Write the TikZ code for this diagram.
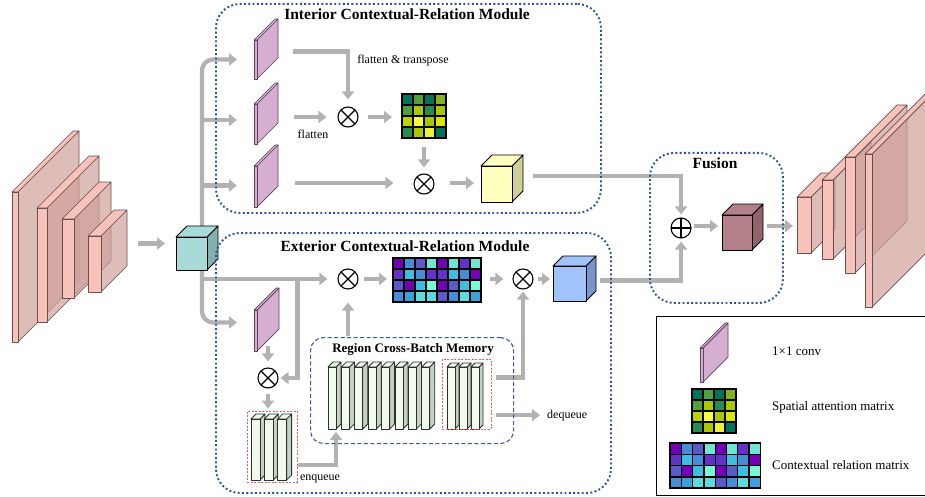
\documentclass[tikz,border=0pt]{standalone}
\usepackage{fontspec}
\setmainfont{Liberation Serif}
\usetikzlibrary{arrows.meta,calc}

\definecolor{flowgray}{RGB}{180,177,177}
\definecolor{dotblue}{RGB}{40,80,155}
\definecolor{memblue}{RGB}{60,90,150}
\definecolor{qred}{RGB}{235,90,95}
\definecolor{pinkF}{RGB}{246,194,186}
\definecolor{pinkS}{RGB}{208,160,154}
\definecolor{pinkE}{RGB}{105,80,80}
\definecolor{cyanF}{RGB}{168,218,218}
\definecolor{cyanS}{RGB}{132,176,176}
\definecolor{yelF}{RGB}{255,255,192}
\definecolor{yelS}{RGB}{206,206,150}
\definecolor{bluF}{RGB}{160,196,250}
\definecolor{bluS}{RGB}{120,150,205}
\definecolor{mauF}{RGB}{180,128,138}
\definecolor{mauS}{RGB}{145,100,110}
\definecolor{convF}{RGB}{214,174,210}
\definecolor{convS}{RGB}{214,174,210}
\definecolor{convE}{RGB}{90,70,90}
\definecolor{colF}{RGB}{240,249,236}
\definecolor{colS}{RGB}{198,208,196}
\definecolor{colE}{RGB}{40,50,40}
% spatial attention cells
\definecolor{sTeal}{RGB}{0,115,90}
\definecolor{sTealB}{RGB}{40,140,80}
\definecolor{sGrn}{RGB}{80,160,60}
\definecolor{sOlv}{RGB}{130,180,30}
\definecolor{sLim}{RGB}{170,200,0}
\definecolor{sLimB}{RGB}{190,210,0}
\definecolor{sYel}{RGB}{250,250,70}
\definecolor{sYelB}{RGB}{220,230,0}
\definecolor{sYelC}{RGB}{240,240,50}
% contextual relation cells
\definecolor{cPur}{RGB}{115,0,180}
\definecolor{cVio}{RGB}{100,50,200}
\definecolor{cSla}{RGB}{90,90,200}
\definecolor{cBlu}{RGB}{70,140,215}
\definecolor{cBluB}{RGB}{60,160,220}
\definecolor{cCya}{RGB}{60,190,225}
\definecolor{cTur}{RGB}{90,220,220}
\definecolor{cAqu}{RGB}{110,230,210}
\definecolor{cAquB}{RGB}{120,250,210}

\newcommand{\samcells}{{sTeal,sGrn,sTeal,sOlv},{sGrn,sLim,sTealB,sLim},{sLimB,sYel,sLim,sYelB},{sTealB,sLim,sYelC,sTeal}}
\newcommand{\crmcells}{{cPur,cBlu,cSla,cAqu,cPur,cAqu,cVio,cAqu},{cVio,cCya,cBlu,cVio,cVio,cCya,cBlu,cPur},{cSla,cPur,cCya,cAquB,cPur,cSla,cCya,cAquB},{cBlu,cBluB,cTur,cTur,cSla,cBlu,cTur,cBluB}}

% cuboid: [edge style]{name}{x}{y}{w}{h}{depth}{front}{side}
\newcommand{\cuboid}[9][cubeedge]{%
  \node[inner sep=0pt, outer sep=0pt, minimum width=#5pt, minimum height=#6pt, anchor=north west] (#2) at (#3,#4) {};
  \filldraw[#1, fill=#9, sidefill] (#2.north east) -- ++(#7,-#7) -- ++(0,#6) -- ++(-#7,#7) -- cycle;
  \filldraw[#1, fill=#8] (#2.north west) -- ++(#7,-#7) -- ++(#5,0) -- (#2.north east) -- cycle;
  \filldraw[#1, fill=#8] (#2.north west) rectangle (#2.south east);
}

% matrix of 4 rows: {name}{x}{y}{cell}{cols}{cells}
\newcommand{\relmat}[6]{%
  \pgfmathsetmacro\matw{#4*#5}
  \pgfmathsetmacro\math{#4*4}
  \node[inner sep=0pt, outer sep=0pt, anchor=north west, minimum width=\matw pt, minimum height=\math pt] (#1) at (#2,#3) {};
  \foreach \row [count=\r from 0] in #6 {
    \foreach \c [count=\k from 0] in \row {
      \filldraw[fill=\c, draw=black, line width=1.3pt] ($(#1.north west)+(\k*#4,\r*#4)$) rectangle ++(#4,#4);
    }
  }
  \draw[line width=1.6pt] (#1.north west) rectangle (#1.south east);
}

\begin{document}
\begin{tikzpicture}[x=1pt, y=-1pt,
  flow/.style={draw=flowgray, line width=4.3pt, -{Triangle[width=12pt,length=8pt]}},
  trunk/.style={flow, rounded corners=11pt},
  sidefill/.style={},
  cubeedge/.style={draw=black, line width=0.9pt, line join=round},
  slabedge/.style={draw=pinkE, line width=0.7pt, line join=round, sidefill/.style={fill opacity=.7}},
  convedge/.style={draw=convE, line width=0.7pt, line join=round},
  coledge/.style={draw=colE, line width=0.8pt, line join=round},
  mulop/.style={circle, draw=black, line width=1.1pt, minimum size=20pt, inner sep=0pt,
    path picture={\draw[line width=1.1pt] (path picture bounding box.north west) -- (path picture bounding box.south east)
      (path picture bounding box.north east) -- (path picture bounding box.south west);}},
  addop/.style={circle, draw=black, line width=1.1pt, minimum size=20pt, inner sep=0pt,
    path picture={\draw[line width=1.1pt] (path picture bounding box.north) -- (path picture bounding box.south)
      (path picture bounding box.east) -- (path picture bounding box.west);}},
  modbox/.style={draw=dotblue, line width=1.9pt, dash pattern=on 1.9pt off 2.4pt, rounded corners=24pt, inner sep=0pt},
  membox/.style={draw=memblue, line width=1.1pt, dash pattern=on 4pt off 2.5pt, rounded corners=13pt, inner sep=0pt},
  qbox/.style={draw=qred, line width=0.9pt, dash pattern=on 2pt off 1.5pt, inner sep=0pt},
  modtitle/.style={font=\fontsize{15.5}{18}\selectfont\bfseries},
  subtitle/.style={font=\fontsize{13}{15}\selectfont\bfseries, inner sep=0pt},
  lbl/.style={font=\fontsize{12}{14}\selectfont, inner sep=0pt},
  legtext/.style={font=\fontsize{13}{15}\selectfont, inner sep=0pt, anchor=base west},
]
\useasboundingbox (0,0) rectangle (925,497);

% input feature maps
\cuboid[slabedge]{s1}{12}{192}{6}{150}{61}{pinkF}{pinkS}
\cuboid[slabedge]{s2}{37}{208}{10}{114}{52}{pinkF}{pinkS}
\cuboid[slabedge]{s3}{62}{219}{12}{79}{37}{pinkF}{pinkS}
\cuboid[slabedge]{s4}{88}{236}{13}{56}{26}{pinkF}{pinkS}

% 1x1 convs
\cuboid[convedge]{c1}{254}{40}{3}{39}{21}{convF}{convS}
\cuboid[convedge]{c2}{254}{104}{3}{40}{21}{convF}{convS}
\cuboid[convedge]{c3}{254}{166}{3}{41}{21}{convF}{convS}
\cuboid[convedge]{c4}{254}{310}{3}{41}{22}{convF}{convS}

% operators
\node[mulop] (ox1) at (348,117) {};
\node[mulop] (ox2) at (424,184) {};
\node[mulop] (ox3) at (348,279) {};
\node[mulop] (ox4) at (268,378) {};
\node[mulop] (ox5) at (523,279) {};
\node[addop] (add) at (681,228) {};

% trunk behind the input cube
\coordinate (tr) at (202,250);
\coordinate (c2in) at ($(c2.west)+(-17,-4)$);
\coordinate (c3in) at ($(c3.west)+(-17,-1)$);
\coordinate (brk) at ($(ox3.west)+(-40,0)$);
\draw[trunk] (tr) |- ($(c1.west)+(-17,0)$);
\draw[flow] (tr |- c2in) -- (c2in);
\draw[flow] (tr |- c3in) -- (c3in);
\draw[trunk] (tr) |- ($(c4.west)+(-17,-8)$);
\draw[flow] (tr |- ox3) -- ($(ox3.west)+(-10,0)$);
\draw[flow] (brk) |- ($(ox4.east)+(2,0)$);

\cuboid{inCube}{176}{237}{31}{33}{11}{cyanF}{cyanS}
\draw[flow] ($(inCube.west)+(-38,-10)$) -- ($(inCube.west)+(-11,-10)$);

% interior module
\relmat{sam}{402}{94}{11}{4}{\samcells}
\cuboid{yelCube}{481}{166}{31}{36}{11}{yelF}{yelS}
\draw[flow] ($(c1.east)+(36,-8)$) -| ($(ox1.north)+(0,-7)$);
\draw[flow] ($(ox1.west)+(-43,0)$) -- ($(ox1.west)+(-11,0)$);
\draw[flow] ($(ox1.east)+(9,0)$) -- ($(sam.west |- ox1)+(-10,0)$);
\draw[flow] ($(ox2 |- sam.south)+(0,9)$) -- ($(ox2.north)+(0,-6)$);
\draw[flow] ($(ox2.west)+(-118,-1)$) -- ($(ox2.west)+(-20,-1)$);
\draw[flow] ($(ox2.east)+(15,-1)$) -- ($(yelCube.west)+(-7,-1)$);
\node[lbl, anchor=base] (ftr) at (403,64) {flatten \& transpose};
\node[lbl, anchor=base] (fl) at (313,139) {flatten};

% exterior module
\relmat{crm}{393}{258}{11}{8}{\crmcells}
\cuboid{bluCube}{553}{266}{33}{35}{10}{bluF}{bluS}
\draw[flow] ($(ox3.east)+(5,0)$) -- ($(crm.west |- ox3)+(-6,0)$);
\draw[flow] ($(crm.east |- ox3)+(9,0)$) -- ($(ox5.west)+(-9,0)$);
\draw[flow] ($(ox5.east)+(4,0)$) -- ($(bluCube.west |- ox5)+(-3,0)$);
\draw[flow] ($(ox4.north)+(0,-21)$) -- ($(ox4.north)+(0,-6)$);
\draw[flow] ($(ox4.south)+(0,5)$) -- ($(ox4.south)+(0,20)$);

\foreach \i in {0,1,2} {\cuboid[coledge]{e\i}{251+13.3*\i}{419}{9}{61}{5}{colF}{colS}}
\node[qbox, minimum width=50pt, minimum height=71pt, anchor=north west] (qEnq) at (247,411) {};
\foreach \i in {0,...,7} {\cuboid[coledge]{m\i}{328+13.4*\i}{367}{8}{62}{5}{colF}{colS}}
\foreach \i in {0,1,2} {\cuboid[coledge]{q\i}{447+12*\i}{367}{8}{62}{4}{colF}{colS}}
\node[qbox, minimum width=49pt, minimum height=70pt, anchor=north west] (qMem) at (442,359) {};

\draw[flow] ($(qEnq.east)+(0,18)$) -| ($(m0.south east)+(0,3)$);
\draw[flow] ($(qMem.east)+(4,-17)$) -| ($(ox5.south)+(0,2)$);
\draw[flow] ($(ox3.south)+(0,46)$) -- ($(ox3.south)+(0,13)$);
\node[lbl, anchor=base west] (deq) at (547,418) {dequeue};
\draw[flow] ($(qMem.east |- deq.west)+(4,0)$) -- ($(deq.west)+(-7,0)$);
\node[lbl, anchor=base] (enq) at (320,480) {enqueue};

% fusion
\draw[flow] ($(yelCube.east)+(21,-8)$) -| ($(add.north)+(0,-3)$);
\draw[flow] ($(bluCube.east)+(14,-3)$) -| ($(add.south)+(0,3)$);
\cuboid{fusCube}{722}{215}{30}{35}{11}{mauF}{mauS}
\draw[flow] ($(add.east)+(2,-2)$) -- ($(fusCube.west)+(-4,-6.5)$);

% output feature maps
\cuboid[slabedge]{o1}{797}{197}{14}{56}{24}{pinkF}{pinkS}
\cuboid[slabedge]{o2}{822}{180}{11}{79}{38}{pinkF}{pinkS}
\cuboid[slabedge]{o3}{845}{157}{10}{116}{52}{pinkF}{pinkS}
\cuboid[slabedge]{o4}{865}{154}{7}{153}{61}{pinkF}{pinkS}
\draw[flow] ($(fusCube.east)+(15,-6.5)$) -- ($(o1.west)+(-4,1)$);

% legend
\node[draw=black, line width=1.1pt, inner sep=0pt, minimum width=280pt, minimum height=179pt, anchor=north west] (leg) at (656,316) {};
\cuboid[convedge]{lc}{700}{348}{3}{34}{25}{convF}{convS}
\relmat{lsam}{692}{389}{11}{4}{\samcells}
\relmat{lcrm}{670}{443}{11.3}{8}{\crmcells}
\node[legtext] (lt1) at (772,355) {1×1 conv};
\node[legtext] (lt2) at (772,410) {Spatial attention matrix};
\node[legtext] (lt3) at (772,469) {Contextual relation matrix};

% module frames
\node[modbox, minimum width=385pt, minimum height=209pt, anchor=north west] (icrm) at (215,3) {};
\node[modtitle] (icrmT) at (407,14) {Interior Contextual-Relation Module};
\node[modbox, minimum width=395pt, minimum height=260pt, anchor=north west] (ecrm) at (215,232) {};
\node[modtitle] (ecrmT) at (405,246) {Exterior Contextual-Relation Module};
\node[membox, minimum width=203pt, minimum height=106pt, anchor=north west] (mem) at (310,337) {};
\node[subtitle, anchor=base] (memT) at (413,352) {Region Cross-Batch Memory};
\node[modbox, minimum width=133pt, minimum height=150pt, anchor=north west] (fus) at (649,152) {};
\node[modtitle] (fusT) at (715,163) {Fusion};
\end{tikzpicture}
\end{document}
